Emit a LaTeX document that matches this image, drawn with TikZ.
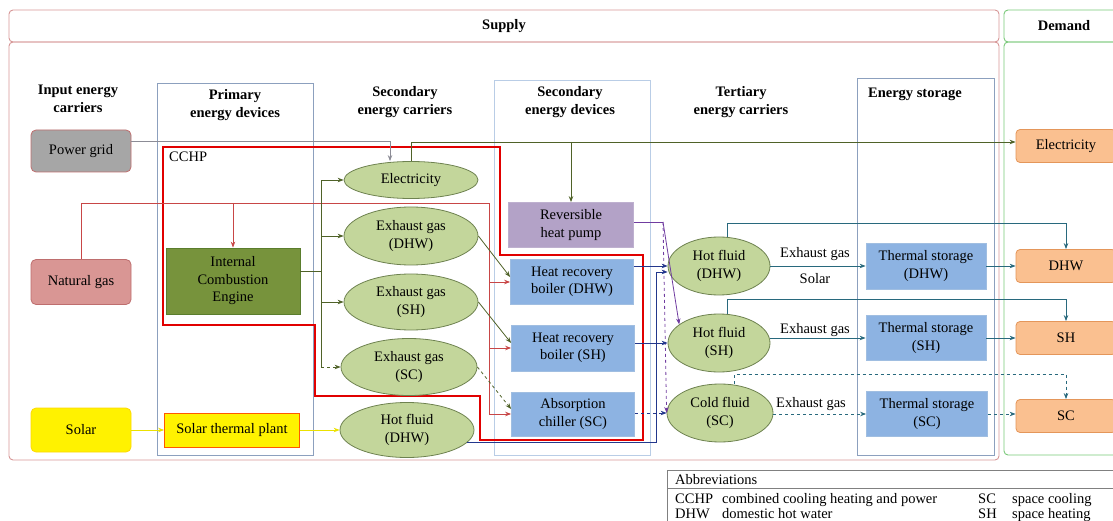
\documentclass[tikz,border=0pt]{standalone}
\usepackage{fontspec}
\setmainfont{Liberation Serif}
\usetikzlibrary{arrows.meta,shapes.geometric}
\definecolor{supc}{RGB}{214,150,150}
\definecolor{demc}{RGB}{120,200,120}
\definecolor{colc}{RGB}{140,160,190}
\definecolor{colc2}{RGB}{185,205,230}
\definecolor{gridfill}{RGB}{166,166,166}
\definecolor{gasfill}{RGB}{217,150,148}
\definecolor{boxred}{RGB}{190,110,110}
\definecolor{icefill}{RGB}{119,147,60}
\definecolor{iceline}{RGB}{90,125,45}
\definecolor{ellfill}{RGB}{195,214,155}
\definecolor{ellline}{RGB}{110,130,80}
\definecolor{bluefill}{RGB}{141,179,226}
\definecolor{blueline}{RGB}{160,190,225}
\definecolor{purpfill}{RGB}{179,162,199}
\definecolor{orfill}{RGB}{250,192,144}
\definecolor{orline}{RGB}{228,150,90}
\definecolor{glinec}{RGB}{79,98,40}
\definecolor{rlinec}{RGB}{200,70,70}
\definecolor{navyc}{RGB}{35,55,140}
\definecolor{purlc}{RGB}{112,60,160}
\definecolor{tealc}{RGB}{40,105,125}
\definecolor{yellc}{RGB}{235,225,0}
\definecolor{cchpred}{RGB}{225,0,0}
\definecolor{graylc}{RGB}{140,140,150}
\tikzset{
  txt/.style={font=\fontsize{14.5}{17.5}\selectfont, align=center, inner sep=0pt},
  hdr/.style={txt, font=\bfseries\fontsize{14.5}{17.5}\selectfont},
  inbox/.style={txt, rectangle, draw=boxred, rounded corners=5pt, minimum width=100pt, line width=0.8pt},
  ell/.style={ellipse, draw=ellline, fill=ellfill, txt, line width=0.8pt},
  bbox/.style={rectangle, draw=blueline, fill=bluefill, txt, minimum width=123pt, line width=0.8pt},
  dem/.style={rectangle, rounded corners=4pt, draw=orline, fill=orfill, txt, minimum width=100pt, minimum height=33pt, line width=0.8pt},
  arr/.style={-{Stealth[length=6pt,width=4.5pt]}, line width=0.8pt},
  frame/.style={line width=0.9pt, rounded corners=4pt},
  abbr/.style={txt, anchor=base west}
}
\begin{document}
\begin{tikzpicture}[x=1pt,y=-1pt]
\useasboundingbox (0,0) rectangle (1113,521);
\clip (0,0) rectangle (1113,521);
% frames
\draw[frame, supc] (9,10) rectangle (999,42);
\draw[frame, supc] (9,42) rectangle (999,460);
\draw[frame, demc] (1004,10) rectangle (1130,42);
\draw[frame, demc] (1004,42) rectangle (1130,455);
\draw[colc, line width=0.8pt] (157,83) rectangle (313,455);
\draw[colc2, line width=0.8pt] (494,80) rectangle (650,455);
\draw[colc, line width=0.8pt] (857,78) rectangle (994,455);
% CCHP boundary
\draw[cchpred, line width=2.2pt] (163,147) -- (500,147) -- (500,255) -- (643,255) -- (643,440) -- (480,440) -- (480,396) -- (315,396) -- (315,325) -- (163,325) -- cycle;

% headers
\node[hdr] (supply) at (504,26) {Supply};
\node[hdr] (demand) at (1064,26) {Demand};
\node[hdr] (h1) at (78,99) {Input energy\\carriers};
\node[hdr] (h2) at (235,105) {Primary\\energy devices};
\node[hdr] (h3) at (405,102) {Secondary\\energy carriers};
\node[hdr] (h4) at (570,102) {Secondary\\energy devices};
\node[hdr] (h5) at (741,102) {Tertiary\\energy carriers};
\node[hdr] (h6) at (915,94) {Energy storage};
\node[txt, anchor=west] (cchp) at (169,157) {CCHP};

% input carriers
\node[inbox, fill=gridfill, minimum height=42pt] (pg) at (81,151) {Power grid};
\node[inbox, fill=gasfill, minimum height=45pt] (ng) at (81,282) {Natural gas};
\node[inbox, fill=yellow, draw=yellow!75!orange, minimum height=44pt] (sol) at (81,430) {Solar};
% primary devices
\node[rectangle, txt, fill=icefill, draw=iceline, line width=0.8pt, minimum width=134pt, minimum height=66pt] (ice) at (233,281) {Internal\\Combustion\\Engine};
\node[rectangle, txt, fill=yellow, draw=orange!70!red, line width=0.8pt, minimum width=135pt, minimum height=34pt] (stp) at (232,430) {Solar thermal plant};
% secondary carriers
\node[ell, minimum width=134pt, minimum height=37pt] (elec) at (411,180) {Electricity};
\node[ell, minimum width=134pt, minimum height=58pt] (exD) at (411,236) {Exhaust gas\\(DHW)};
\node[ell, minimum width=134pt, minimum height=56pt] (exS) at (411,302) {Exhaust gas\\(SH)};
\node[ell, minimum width=136pt, minimum height=57pt] (exC) at (409,367) {Exhaust gas\\(SC)};
\node[ell, minimum width=134pt, minimum height=55pt] (hf2) at (407,430) {Hot fluid\\(DHW)};
% secondary devices
\node[bbox, fill=purpfill, draw=purpfill!85!white, minimum width=125pt, minimum height=45pt] (rhp) at (571,225) {Reversible\\heat pump};
\node[bbox, minimum height=45pt] (hrbD) at (572,282) {Heat recovery\\boiler (DHW)};
\node[bbox, minimum height=46pt] (hrbS) at (573,348) {Heat recovery\\boiler (SH)};
\node[bbox, minimum height=44pt] (abs) at (573,414) {Absorption\\chiller (SC)};
% tertiary carriers
\node[ell, minimum width=102pt, minimum height=58pt] (hfT) at (719,266) {Hot fluid\\(DHW)};
\node[ell, minimum width=102pt, minimum height=58pt] (hfS) at (719,343) {Hot fluid\\(SH)};
\node[ell, minimum width=106pt, minimum height=58pt] (cf) at (720,413) {Cold fluid\\(SC)};
% storage
\node[bbox, minimum width=120pt, minimum height=46pt] (tsD) at (926,266) {Thermal storage\\(DHW)};
\node[bbox, minimum width=120pt, minimum height=45pt] (tsS) at (926,338) {Thermal storage\\(SH)};
\node[bbox, minimum width=121pt, minimum height=45pt] (tsC) at (927,414) {Thermal storage\\(SC)};
% demand
\node[dem] (dE) at (1066,146) {Electricity};
\node[dem] (dD) at (1066,266) {DHW};
\node[dem] (dS) at (1066,338) {SH};
\node[dem] (dC) at (1066,416) {SC};

% connectors: power grid and electricity
\draw[arr, draw=graylc] ([yshift=10pt]pg.east) -| ([xshift=-21pt]elec.north);
\draw[arr, draw=glinec] (elec.north) |- ([yshift=4pt]dE.west);
\coordinate (eb) at (571,142);
\draw[arr, draw=glinec] (eb) -- (rhp.north);
% natural gas distribution
\coordinate (gt) at (489,203);
\draw[draw=rlinec, line width=0.8pt] (ng.north) |- (gt) -- (gt |- abs.west);
\draw[arr, draw=rlinec] (ice.north |- gt) -- (ice.north);
\draw[arr, draw=rlinec] (gt |- hrbD.west) -- (hrbD.west);
\draw[arr, draw=rlinec] (gt |- hrbS.west) -- (hrbS.west);
\draw[arr, draw=rlinec] (gt |- abs.west) -- (abs.west);
% ICE outputs
\coordinate (bus) at (321,271);
\draw[draw=glinec, line width=0.8pt] ([yshift=10pt]ice.east) -- (bus);
\draw[arr, draw=glinec] (bus) |- (elec.west);
\draw[arr, draw=glinec] (bus) |- (exD.west);
\draw[arr, draw=glinec] (bus) |- (exS.west);
\draw[draw=glinec, line width=0.8pt] (bus) -- (bus |- exC.west);
\draw[arr, draw=glinec, dashed] (bus |- exC.west) -- (exC.west);
% exhaust gas to devices
\draw[arr, draw=glinec] (exD.east) -- ([yshift=5pt]hrbD.west);
\draw[arr, draw=glinec] (exS.east) -- ([yshift=5pt]hrbS.west);
\draw[arr, draw=glinec, dashed] (exC.east) -- ([yshift=5pt]abs.west);
% solar
\draw[arr, draw=yellc] (sol.east) -- (stp.west);
\draw[arr, draw=yellc] (stp.east) -- (hf2.west);
% heat pump
\coordinate (pp) at (663,222);
\draw[draw=purlc, line width=0.8pt] ([yshift=3pt]rhp.east) -- (pp);
\draw[arr, draw=purlc] (pp) -- (hfS.155);
\draw[arr, draw=purlc, dashed] (pp) -- (cf.west);
% devices to tertiary carriers
\draw[arr, draw=navyc] (hrbD.east |- hfT.west) -- (hfT.west);
\draw[arr, draw=navyc] (hrbS.east |- hfS.west) -- (hfS.west);
\draw[arr, draw=navyc, dashed] (abs.east |- cf.west) -- (cf.west);
\draw[arr, draw=navyc] (hf2.-12) -| (656,272) -- ([yshift=-6pt]hfT.west);
% tertiary to storage and demand
\draw[arr, draw=tealc] (hfT.east |- tsD.west) -- (tsD.west);
\draw[arr, draw=tealc] (tsD.east) -- (tsD.east -| dD.west);
\draw[arr, draw=tealc] ([xshift=8pt]hfT.north) |- ([yshift=26pt]dD.north) -- (dD.north);
\draw[arr, draw=tealc] (hfS.east |- tsS.west) -- (tsS.west);
\draw[arr, draw=tealc] (tsS.east) -- (tsS.east -| dS.west);
\draw[arr, draw=tealc] ([xshift=8pt]hfS.north) |- ([yshift=22pt]dS.north) -- (dS.north);
\draw[arr, draw=tealc, dashed] (cf.east |- tsC.west) -- (tsC.west);
\draw[arr, draw=tealc, dashed] (tsC.east) -- (tsC.east -| dC.west);
\draw[arr, draw=tealc, dashed] ([xshift=14pt]cf.north) |- ([yshift=25pt]dC.north) -- (dC.north);
% labels
\node[txt] (l1) at (815,254) {Exhaust gas};
\node[txt] (l2) at (815,279) {Solar};
\node[txt] (l3) at (815,330) {Exhaust gas};
\node[txt] (l4) at (811,404) {Exhaust gas};

% abbreviations table
\draw[gray, line width=0.8pt] (667,525) -- (667,470) -- (1120,470);
\draw[gray, line width=0.8pt] (667,488) -- (1120,488);
\node[abbr] (ab) at (675,484) {Abbreviations};
\node[abbr] (a1) at (675,503) {CCHP};
\node[abbr] (a2) at (722,503) {combined cooling heating and power};
\node[abbr] (a3) at (978,503) {SC};
\node[abbr] (a4) at (1012,503) {space cooling};
\node[abbr] (a5) at (675,518) {DHW};
\node[abbr] (a6) at (722,518) {domestic hot water};
\node[abbr] (a7) at (978,518) {SH};
\node[abbr] (a8) at (1012,518) {space heating};
\end{tikzpicture}
\end{document}
